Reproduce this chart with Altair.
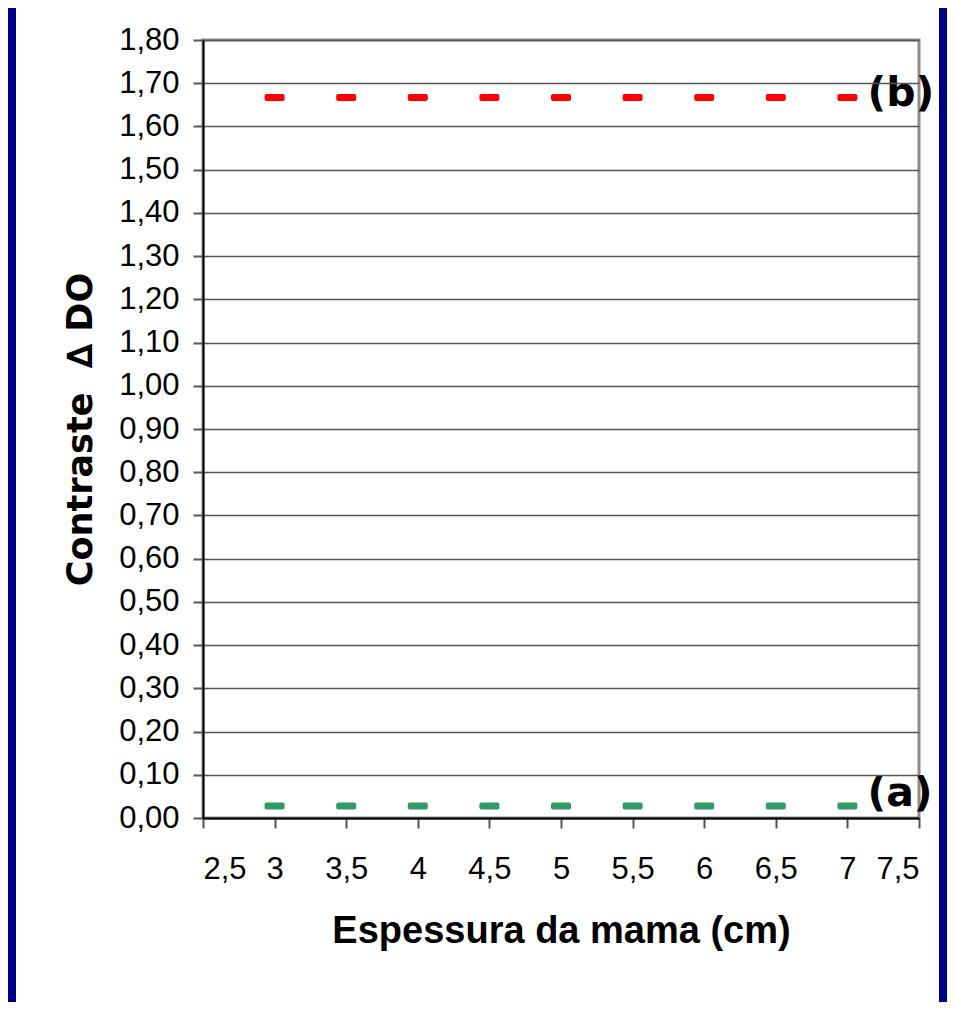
import altair as alt
import pandas as pd

# Data
thickness_cm = [3, 3.5, 4, 4.5, 5, 5.5, 6, 6.5, 7]
contrast_a = [0.028, 0.028, 0.028, 0.028, 0.028, 0.028, 0.028, 0.028, 0.028]
contrast_b = [1.667, 1.667, 1.667, 1.667, 1.667, 1.667, 1.667, 1.667, 1.667]
series_names = ["a", "b"]
series_colors = ["#339966", "#FF0000"]

label_text = ["(a)", "(b)"]
label_x = [7.14, 7.14]
label_y = [0.056, 1.675]

x_ticks = [2.5, 3, 3.5, 4, 4.5, 5, 5.5, 6, 6.5, 7, 7.5]
y_ticks = [round(i * 0.1, 2) for i in range(19)]

NAVY = "#000088"

df = pd.DataFrame({
    "x": thickness_cm * 2,
    "y": contrast_a + contrast_b,
    "s": ["a"] * len(thickness_cm) + ["b"] * len(thickness_cm),
})
lab_df = pd.DataFrame({"t": label_text, "x": label_x, "y": label_y})
frame_df = pd.DataFrame({"k": [0]})

x_scale = alt.Scale(domain=[2.5, 7.5], nice=False, zero=False)
y_scale = alt.Scale(domain=[0, 1.8], nice=False)

x_axis = alt.Axis(
    values=x_ticks,
    labelExpr="replace(format(datum.value, '.1~f'), '.', ',')",
    title="Espessura da mama (cm)",
    grid=False,
    domainColor="black", domainWidth=2,
    tickColor="#555555", tickWidth=2, tickSize=10,
    labelFont="Liberation Sans", labelFontSize=31, labelColor="black",
    labelPadding=26,
    titleFont="Liberation Sans", titleFontSize=38, titleFontWeight="bold",
    titleColor="black", titlePadding=28,
    zindex=1,
)
y_axis = alt.Axis(
    values=y_ticks,
    labelExpr="replace(format(datum.value, '.2f'), '.', ',')",
    title="Contraste\u00a0\u00a0∆\u00a0DO",
    grid=True, gridColor="#555555", gridWidth=1.5,
    domainColor="black", domainWidth=2,
    tickColor="#555555", tickWidth=2, tickSize=10,
    labelFont="Liberation Sans", labelFontSize=31, labelColor="black",
    labelPadding=14,
    titleFont="DejaVu Sans", titleFontSize=35, titleFontWeight="bold",
    titleColor="black", titlePadding=20,
    zindex=1,
)

dashes = alt.Chart(df).mark_tick(
    orient="horizontal", size=20, thickness=7, cornerRadius=2, opacity=1
).encode(
    x=alt.X("x:Q", scale=x_scale, axis=x_axis),
    y=alt.Y("y:Q", scale=y_scale, axis=y_axis),
    color=alt.Color("s:N", scale=alt.Scale(domain=series_names, range=series_colors), legend=None),
)

labels = alt.Chart(lab_df).mark_text(
    align="left", baseline="middle", font="DejaVu Sans", fontSize=41,
    fontWeight="bold", color="black"
).encode(
    x=alt.X("x:Q", scale=x_scale),
    y=alt.Y("y:Q", scale=y_scale),
    text="t:N",
)

# navy side frame strips (decoration)
frame_left = alt.Chart(frame_df).mark_rect(color=NAVY).encode(
    x=alt.value(-195), x2=alt.value(-187), y=alt.value(-32), y2=alt.value(962)
)
frame_right = alt.Chart(frame_df).mark_rect(color=NAVY).encode(
    x=alt.value(736), x2=alt.value(744), y=alt.value(-32), y2=alt.value(962)
)

chart = alt.layer(frame_left, frame_right, dashes, labels).properties(
    width=716, height=778,
    padding={"left": 0, "right": 0, "top": 0, "bottom": 0},
    background="white",
).configure_view(
    stroke="#8c8c8c", strokeWidth=3
)

chart.save("out.html", embed_options={"renderer": "svg", "actions": False})
